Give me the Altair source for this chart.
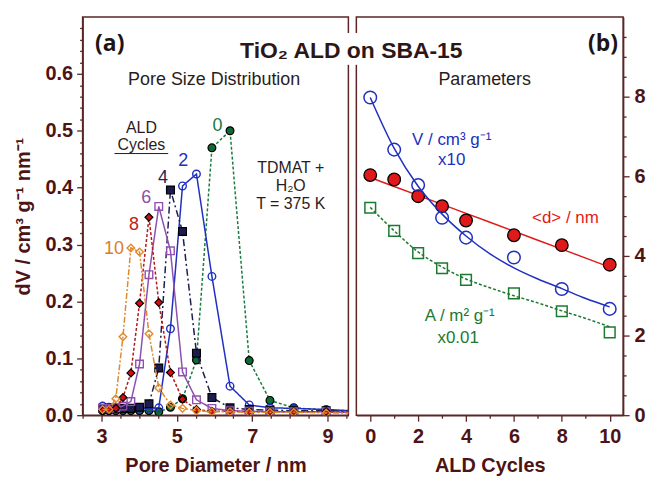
import altair as alt
import pandas as pd

# ---------------- panel (a): pore size distributions ----------------
diam = [3.03, 3.20, 3.38, 3.57, 3.78, 4.01, 4.26, 4.52, 4.83, 5.15, 5.52, 5.93,
        6.41, 6.92, 7.47, 8.10, 8.96, 10.20]
psd_0 = [0.008, 0.008, 0.008, 0.008, 0.008, 0.008, 0.008, 0.006, 0.014, 0.029, 0.097, 0.470,
         0.500, 0.096, 0.026, 0.013, 0.009, 0.005]
psd_2 = [0.016, 0.014, 0.013, 0.012, 0.012, 0.012, 0.012, 0.013, 0.152, 0.403, 0.424, 0.244,
         0.051, 0.018, 0.013, 0.012, 0.010, 0.006]
psd_4 = [0.012, 0.012, 0.012, 0.012, 0.012, 0.014, 0.020, 0.083, 0.396, 0.323, 0.109, 0.031,
         0.013, 0.010, 0.009, 0.008, 0.008, 0.005]
psd_6 = [0.012, 0.012, 0.013, 0.016, 0.024, 0.090, 0.247, 0.367, 0.289, 0.076, 0.027, 0.012,
         0.008, 0.007, 0.006, 0.006, 0.006, 0.004]
psd_8 = [0.008, 0.009, 0.012, 0.031, 0.074, 0.197, 0.348, 0.198, 0.075, 0.028, 0.010, 0.007,
         0.007, 0.006, 0.006, 0.006, 0.006, 0.004]
psd_10 = [0.010, 0.010, 0.029, 0.138, 0.294, 0.287, 0.143, 0.048, 0.018, 0.012, 0.008, 0.006,
          0.006, 0.005, 0.005, 0.005, 0.004, 0.004]
psd_series = ["0", "2", "4", "6", "8", "10"]
psd_values = [psd_0, psd_2, psd_4, psd_6, psd_8, psd_10]

# ---------------- panel (b): parameters ----------------
ald = [0, 1, 2, 3, 4, 6, 8, 10]
vol_x10 = [7.98, 6.67, 5.78, 4.96, 4.46, 3.96, 3.17, 2.67]
d_mean = [6.03, 5.92, 5.50, 5.25, 4.89, 4.52, 4.27, 3.78]
area_x001 = [5.21, 4.63, 4.07, 3.69, 3.40, 3.06, 2.61, 2.08]
fit_cyc = [0, 1, 2, 3, 4, 5, 6, 7, 8, 9, 10]
fit_vol = [7.98, 6.70, 5.75, 5.05, 4.50, 4.05, 3.70, 3.42, 3.18, 2.93, 2.72]
fit_d = [5.97, 5.745, 5.52, 5.295, 5.07, 4.845, 4.62, 4.395, 4.17, 3.945, 3.72]
fit_area = [5.22, 4.63, 4.10, 3.72, 3.42, 3.20, 3.00, 2.82, 2.62, 2.43, 2.22]

# ---------------- styling ----------------
FONT = "Liberation Sans"
AXC = "#5a2626"
LAB = "#4e1414"
TXT = "#2b1c1c"

styles = {
    "0": dict(color="#1b7a3e", dash=[3, 2], shape="circle", fill="#0e6a35", stroke="#000000"),
    "2": dict(color="#2030c0", dash=[1, 0], shape="circle", fill=None, stroke="#2030c0"),
    "4": dict(color="#1e1e50", dash=[7, 3, 2, 3], shape="square", fill="#1c1c50", stroke="#000000"),
    "6": dict(color="#9050b0", dash=[1, 0], shape="square", fill=None, stroke="#9050b0"),
    "8": dict(color="#b51818", dash=[3, 2], shape="diamond", fill="#d01010", stroke="#000000"),
    "10": dict(color="#e08a30", dash=[6, 2, 2, 2], shape="diamond", fill=None, stroke="#e08a30"),
}
label_col = {"0": "#1b7a3e", "2": "#2030c0", "4": "#26264e", "6": "#8a4fa8",
             "8": "#c0201a", "10": "#d97e2a"}

xl_vals = [2.5 + 0.5 * i for i in range(15)]
yl_vals = [round(0.02 * i, 2) for i in range(35)]
yl_major = "abs(datum.value*10 - round(datum.value*10)) < 0.000001"

x_left = alt.X(
    "d:Q",
    scale=alt.Scale(domain=[2.5, 9.55], nice=False, zero=False),
    axis=alt.Axis(title="Pore Diameter / nm", values=xl_vals,
                  labelExpr="datum.value % 2 == 1 ? format(datum.value, '.0f') : ''",
                  tickSize={"condition": {"test": "datum.value % 2 == 1", "value": 6}, "value": 3},
                  labelPadding=5, titlePadding=10, grid=False),
)
y_left = alt.Y(
    "v:Q",
    scale=alt.Scale(domain=[0, 0.7], nice=False, zero=False),
    axis=alt.Axis(title="dV / cm³ g⁻¹ nm⁻¹", values=yl_vals,
                  labelExpr=yl_major + " ? format(datum.value, '.1f') : ''",
                  tickSize={"condition": {"test": yl_major, "value": 6}, "value": 3},
                  labelPadding=4, titlePadding=12, grid=False),
)

left_layers = []
for key, vals in zip(psd_series, psd_values):
    st = styles[key]
    df = pd.DataFrame({"d": diam, "v": vals})
    line = alt.Chart(df).mark_line(color=st["color"], strokeDash=st["dash"],
                                   strokeWidth=1.5, clip=True).encode(x=x_left, y=y_left)
    if st["fill"]:
        pt = alt.Chart(df).mark_point(shape=st["shape"], filled=True, fill=st["fill"],
                                      stroke=st["stroke"], strokeWidth=1.2, size=62,
                                      opacity=1, clip=True).encode(x=x_left, y=y_left)
    else:
        pt = alt.Chart(df).mark_point(shape=st["shape"], filled=False, stroke=st["stroke"],
                                      strokeWidth=1.4, size=58, opacity=1,
                                      clip=True).encode(x=x_left, y=y_left)
    left_layers += [line, pt]

# annotation texts (a)
num_df = pd.DataFrame({
    "d": [6.08, 5.17, 4.63, 4.19, 3.865, 3.33],
    "v": [0.509, 0.446, 0.417, 0.381, 0.334, 0.293],
    "t": psd_series,
})
for i, key in enumerate(psd_series):
    left_layers.append(
        alt.Chart(num_df.iloc[[i]]).mark_text(font=FONT, fontSize=18, color=label_col[key],
                                               align="center", baseline="middle")
        .encode(x=x_left, y=y_left, text="t:N"))

info_df = pd.DataFrame({
    "d": [3.22, 5.99, 4.06, 4.06, 8.02, 8.02, 8.02],
    "v": [0.653, 0.590, 0.505, 0.475, 0.4345, 0.4025, 0.3705],
    "t": ["(a)", "Pore Size Distribution", "ALD", "Cycles", "TDMAT +", "H₂O", "T = 375 K"],
    "k": ["a", "s", "n", "n", "n", "n", "n"],
})
left_layers.append(
    alt.Chart(info_df[info_df.k == "a"]).mark_text(font="Open Sans", fontSize=23, fontWeight="bold",
                                                   color="#1e1414", align="center", baseline="middle")
    .encode(x=x_left, y=y_left, text="t:N"))
left_layers.append(
    alt.Chart(info_df[info_df.k == "s"]).mark_text(font=FONT, fontSize=18, color=TXT,
                                                   align="center", baseline="middle")
    .encode(x=x_left, y=y_left, text="t:N"))
left_layers.append(
    alt.Chart(info_df[info_df.k == "n"]).mark_text(font=FONT, fontSize=16, color=TXT,
                                                   align="center", baseline="middle")
    .encode(x=x_left, y=y_left, text="t:N"))
ul_df = pd.DataFrame({"d": [3.345], "d2": [4.77], "v": [0.460]})
left_layers.append(
    alt.Chart(ul_df).mark_rule(color=TXT, strokeWidth=1).encode(x=x_left, x2="d2:Q", y=y_left))

left = alt.layer(*left_layers).properties(width=267, height=400)

# ---------------- right panel ----------------
xr_vals = list(range(11))
yr_vals = [0.5 * i for i in range(20)]
x_right = alt.X(
    "c:Q",
    scale=alt.Scale(domain=[-0.58, 10.56], nice=False, zero=False),
    axis=alt.Axis(title="ALD Cycles", values=xr_vals,
                  labelExpr="datum.value % 2 == 0 ? format(datum.value, '.0f') : ''",
                  tickSize={"condition": {"test": "datum.value % 2 == 0", "value": 6}, "value": 3},
                  labelPadding=5, titlePadding=10, grid=False),
)
yr_scale = alt.Scale(domain=[0, 10], nice=False, zero=False)
yr_axis = alt.Axis(title=None, orient="right", values=yr_vals,
                   labelExpr="datum.value % 2 == 0 ? format(datum.value, '.0f') : ''",
                   tickSize={"condition": {"test": "datum.value % 2 == 0", "value": 6}, "value": 3},
                   labelPadding=5, grid=False)


def yfield(col):
    return alt.Y(col + ":Q", scale=yr_scale, axis=yr_axis)


pts_df = pd.DataFrame({"c": ald, "vol": vol_x10, "dm": d_mean, "ar": area_x001})
fit_df = pd.DataFrame({"c": fit_cyc, "vol": fit_vol, "dm": fit_d, "ar": fit_area})

BLUE = "#2030c0"
RED = "#e01a1a"
GREEN = "#1b7a30"

right_layers = [
    alt.Chart(fit_df).mark_line(color=GREEN, strokeDash=[3, 2], strokeWidth=1.5,
                                interpolate="monotone").encode(x=x_right, y=yfield("ar")),
    alt.Chart(pts_df).mark_point(shape="square", filled=False, stroke=GREEN, strokeWidth=1.5,
                                 size=115, opacity=1).encode(x=x_right, y=yfield("ar")),
    alt.Chart(fit_df).mark_line(color=RED, strokeWidth=1.5).encode(x=x_right, y=yfield("dm")),
    alt.Chart(pts_df).mark_point(shape="circle", filled=True, fill=RED, stroke="#000000",
                                 strokeWidth=1.3, size=160, opacity=1).encode(x=x_right, y=yfield("dm")),
    alt.Chart(fit_df).mark_line(color=BLUE, strokeWidth=1.5,
                                interpolate="monotone").encode(x=x_right, y=yfield("vol")),
    alt.Chart(pts_df).mark_point(shape="circle", filled=False, stroke=BLUE, strokeWidth=1.5,
                                 size=160, opacity=1).encode(x=x_right, y=yfield("vol")),
]

ann_r = pd.DataFrame({
    "c": [3.40, 3.40, 8.15, 3.74, 3.67],
    "p": [6.92, 6.40, 4.96, 2.50, 1.94],
    "t": ["V / cm³ g⁻¹", "x10", "<d> / nm", "A / m² g⁻¹", "x0.01"],
    "col": [BLUE, BLUE, RED, GREEN, GREEN],
})
for i in range(len(ann_r)):
    right_layers.append(
        alt.Chart(ann_r.iloc[[i]]).mark_text(font=FONT, fontSize=17, color=ann_r.col[i],
                                              align="center", baseline="middle")
        .encode(x=x_right, y=yfield("p"), text="t:N"))

head_r = pd.DataFrame({"c": [4.78, 9.72], "p": [8.43, 9.33], "t": ["Parameters", "(b)"]})
right_layers.append(
    alt.Chart(head_r.iloc[[0]]).mark_text(font=FONT, fontSize=18, color=TXT,
                                          align="center", baseline="middle")
    .encode(x=x_right, y=yfield("p"), text="t:N"))
right_layers.append(
    alt.Chart(head_r.iloc[[1]]).mark_text(font="Open Sans", fontSize=23, fontWeight="bold",
                                          color="#1e1414", align="center", baseline="middle")
    .encode(x=x_right, y=yfield("p"), text="t:N"))

# white band behind the main title where it crosses the panel gap
mask_df = pd.DataFrame({"c": [-1.15], "c2": [-0.2], "p": [8.8], "p2": [9.6]})
right_layers.append(
    alt.Chart(mask_df).mark_rect(color="white", opacity=1).encode(
        x=x_right, x2="c2:Q", y=yfield("p"), y2="p2:Q"))
title_df = pd.DataFrame({"c": [-0.79], "p": [9.15], "t": ["TiO₂ ALD on SBA-15"]})
right_layers.append(
    alt.Chart(title_df).mark_text(font=FONT, fontSize=23, fontWeight="bold", color="#2e1616",
                                  align="center", baseline="middle")
    .encode(x=x_right, y=yfield("p"), text="t:N"))

right = alt.layer(*right_layers).properties(width=268, height=400)

chart = alt.hconcat(left, right, spacing=8, bounds="flush").properties(
    padding={"left": 12, "top": 15, "right": 3, "bottom": 3},
    background="white",
).configure_axis(
    domainColor=AXC, domainWidth=1.5, tickColor=AXC, tickWidth=1.3,
    labelFont=FONT, labelFontSize=20, labelFontWeight="bold", labelColor=LAB,
    titleFont=FONT, titleFontSize=20, titleFontWeight="bold", titleColor=LAB,
).configure_view(stroke=AXC, strokeWidth=1.5)

chart.save("out.html", embed_options={"renderer": "svg", "actions": False})
